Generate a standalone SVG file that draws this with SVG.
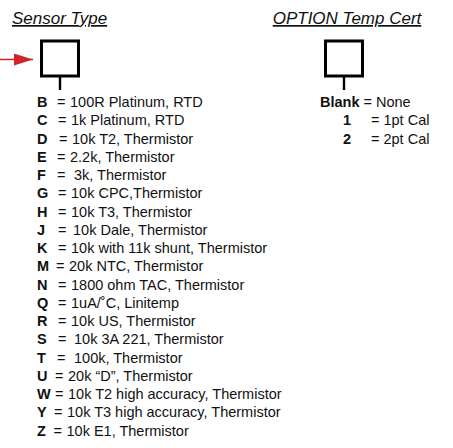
<svg xmlns="http://www.w3.org/2000/svg" width="453" height="448" viewBox="0 0 453 448">
<style>
text{font-family:"Liberation Sans",Arial,Helvetica,sans-serif;fill:#111;}
.title{font-size:17px;font-style:italic;text-decoration:underline;}
.item text{font-size:14.5px;}
.k{font-weight:bold;}
.box{fill:#fff;stroke:#000;stroke-width:3;}
.stem{stroke:#000;stroke-width:2.4;}
.arrow{stroke:#d2232a;stroke-width:1.6;fill:none;}
</style>
<defs>
<marker id="ah" markerWidth="19" markerHeight="12" refX="19" refY="6" orient="auto" markerUnits="userSpaceOnUse" viewBox="0 0 19 12">
<path d="M0,0 L19,6 L0,12 z" fill="#d2232a"/>
</marker>
</defs>
<rect width="453" height="448" fill="#fff"/>
<g id="connectors">
<line class="arrow" x1="0" y1="59.5" x2="33" y2="59.5" marker-end="url(#ah)"/>
</g>
<g id="sensor-type">
<text class="title" x="12" y="24">Sensor Type</text>
<rect class="box" x="41.5" y="41" width="37" height="35"/>
<line class="stem" x1="60" y1="76" x2="60" y2="90"/>
<g class="item">
<text y="107"><tspan class="k" x="37">B</tspan><tspan x="57">=</tspan><tspan x="70">100R Platinum, RTD</tspan></text>
<text y="125.25"><tspan class="k" x="37">C</tspan><tspan x="58">=</tspan><tspan x="71">1k Platinum, RTD</tspan></text>
<text y="143.5"><tspan class="k" x="37">D</tspan><tspan x="59">=</tspan><tspan x="72">10k T2, Thermistor</tspan></text>
<text y="161.75"><tspan class="k" x="37">E</tspan><tspan x="57">=</tspan><tspan x="70">2.2k, Thermistor</tspan></text>
<text y="180"><tspan class="k" x="37">F</tspan><tspan x="57">=</tspan><tspan x="74">3k, Thermistor</tspan></text>
<text y="198.25"><tspan class="k" x="37">G</tspan><tspan x="58">=</tspan><tspan x="71">10k CPC,Thermistor</tspan></text>
<text y="216.5"><tspan class="k" x="37">H</tspan><tspan x="58">=</tspan><tspan x="71">10k T3, Thermistor</tspan></text>
<text y="234.75"><tspan class="k" x="37">J</tspan><tspan x="58">=</tspan><tspan x="73">10k Dale, Thermistor</tspan></text>
<text y="253"><tspan class="k" x="37">K</tspan><tspan x="58">=</tspan><tspan x="71">10k with 11k shunt, Thermistor</tspan></text>
<text y="271.25"><tspan class="k" x="37">M</tspan><tspan x="56">=</tspan><tspan x="69">20k NTC, Thermistor</tspan></text>
<text y="289.5"><tspan class="k" x="37">N</tspan><tspan x="58">=</tspan><tspan x="71">1800 ohm TAC, Thermistor</tspan></text>
<text y="307.75"><tspan class="k" x="37">Q</tspan><tspan x="58">=</tspan><tspan x="71">1uA/˚C, Linitemp</tspan></text>
<text y="326"><tspan class="k" x="37">R</tspan><tspan x="58">=</tspan><tspan x="71">10k US, Thermistor</tspan></text>
<text y="344.25"><tspan class="k" x="37">S</tspan><tspan x="58">=</tspan><tspan x="74">10k 3A 221, Thermistor</tspan></text>
<text y="362.5"><tspan class="k" x="37">T</tspan><tspan x="57">=</tspan><tspan x="74">100k, Thermistor</tspan></text>
<text y="380.75"><tspan class="k" x="37">U</tspan><tspan x="55">=</tspan><tspan x="68">20k “D”, Thermistor</tspan></text>
<text y="399"><tspan class="k" x="37">W</tspan><tspan x="55">=</tspan><tspan x="68">10k T2 high accuracy, Thermistor</tspan></text>
<text y="417.25"><tspan class="k" x="37">Y</tspan><tspan x="54">=</tspan><tspan x="67">10k T3 high accuracy, Thermistor</tspan></text>
<text y="435.5"><tspan class="k" x="37">Z</tspan><tspan x="53.5">=</tspan><tspan x="66.5">10k E1, Thermistor</tspan></text>
</g>
</g>
<g id="option-temp-cert">
<text class="title" x="272.7" y="24">OPTION Temp Cert</text>
<rect class="box" x="325.5" y="41" width="37" height="35"/>
<line class="stem" x1="344" y1="76" x2="344" y2="90"/>
<g class="item">
<text y="107"><tspan class="k" x="320">Blank</tspan><tspan> = None</tspan></text>
<text y="125.25"><tspan class="k" x="343">1</tspan><tspan x="371">= 1pt Cal</tspan></text>
<text y="143.5"><tspan class="k" x="343">2</tspan><tspan x="371">= 2pt Cal</tspan></text>
</g>
</g>
</svg>
